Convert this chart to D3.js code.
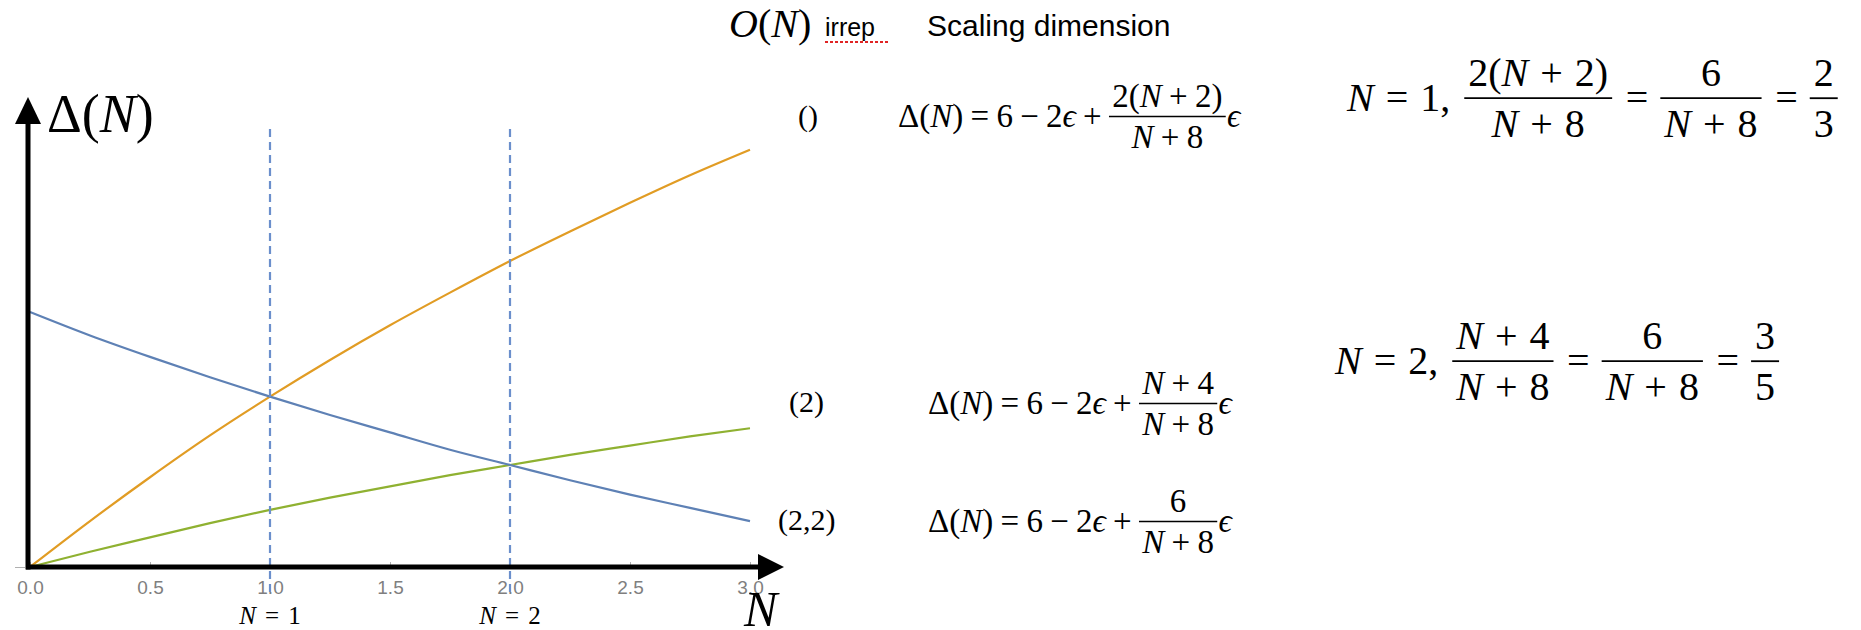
<!DOCTYPE html>
<html>
<head>
<meta charset="utf-8">
<script src="https://cdn.jsdelivr.net/npm/d3@7"></script>
<style>
  body { margin: 0; background: #fff; }
  svg text { font-family: "Liberation Serif", "DejaVu Serif", serif; fill: #000; }
</style>
</head>
<body>
<svg id="chart" width="1861" height="630"></svg>
<script>
// values (N from 0 to 3)
const nValues = [0, 0.25, 0.5, 0.75, 1, 1.25, 1.5, 1.75, 2, 2.25, 2.5, 2.75, 3];
const singletValues = [0.5, 0.545, 0.588, 0.629, 0.667, 0.703, 0.737, 0.769, 0.8, 0.829, 0.857, 0.884, 0.909];
const vectorValues = [0.5, 0.515, 0.529, 0.543, 0.556, 0.568, 0.579, 0.59, 0.6, 0.61, 0.619, 0.628, 0.636];
const tensorValues = [0.75, 0.727, 0.706, 0.686, 0.667, 0.649, 0.632, 0.615, 0.6, 0.585, 0.571, 0.558, 0.545];
const xTicks = [0, 0.5, 1, 1.5, 2, 2.5, 3];
const markedN = [1, 2];
const seriesColors = ["#e19c24", "#8fb131", "#5e81b5"];

const irrepLabels = ["()", "(2)", "(2,2)"];
const formulaRows = [
  ["Δ(N) = 6 − 2ϵ +", { num: "2(N + 2)", den: "N + 8" }, "ϵ"],
  ["Δ(N) = 6 − 2ϵ +", { num: "N + 4", den: "N + 8" }, "ϵ"],
  ["Δ(N) = 6 − 2ϵ +", { num: "6", den: "N + 8" }, "ϵ"],
];
const checkRows = [
  ["N = 1,", { num: "2(N + 2)", den: "N + 8" }, "=", { num: "6", den: "N + 8" }, "=", { num: "2", den: "3" }],
  ["N = 2,", { num: "N + 4", den: "N + 8" }, "=", { num: "6", den: "N + 8" }, "=", { num: "3", den: "5" }],
];

const svg = d3.select("#chart");
const x = d3.scaleLinear().domain([0, 3]).range([30, 750]);
const y = d3.scaleLinear().domain([0.5, 0.95]).range([567, 108]);

// lays out a row of math, one glyph at a time; returns group + width
function mathRow(parent, items, size, padEm = 0.22) {
  const g = parent.append("g").style("font-size", size + "px");
  const pad = padEm * size;
  let cx = 0;
  items.forEach((item) => {
    if (typeof item === "string") {
      for (const ch of item) {
        if (ch === " ") continue;
        const isOp = "=+−".includes(ch);
        if (isOp && cx > 0) cx += pad;
        const t = g.append("text").attr("x", cx).attr("y", 0).text(ch);
        if ("NOϵ".includes(ch)) t.style("font-style", "italic");
        cx += t.node().getComputedTextLength();
        if (isOp) cx += pad;
        if (ch === ",") cx += 0.35 * size;
      }
    } else {
      const num = mathRow(g, [item.num], size, padEm);
      const den = mathRow(g, [item.den], size, padEm);
      const over = 0.1 * size;
      const w = Math.max(num.width, den.width) + 2 * over;
      const axis = -0.32 * size;
      num.g.attr("transform", `translate(${cx + (w - num.width) / 2},${axis - 0.3 * size})`);
      den.g.attr("transform", `translate(${cx + (w - den.width) / 2},${axis + 0.97 * size})`);
      g.append("line")
        .attr("x1", cx).attr("x2", cx + w)
        .attr("y1", axis).attr("y2", axis)
        .attr("stroke", "#000")
        .attr("stroke-width", size / 22);
      cx += w + 0.04 * size;
    }
  });
  return { g, width: cx };
}

// grey mathematica ticks and labels
svg.append("g")
  .attr("transform", `translate(0,${y(0.5)})`)
  .call(d3.axisBottom(x).tickValues(xTicks).tickFormat(d3.format(".1f")).tickSizeInner(-5).tickSizeOuter(0).tickPadding(14))
  .call((g) => g.select(".domain").remove())
  .call((g) => g.selectAll("line").attr("stroke", "#b0b0b0"))
  .call((g) => g.selectAll("text")
    .style("fill", "#7f7f7f")
    .style("font-family", "'Liberation Sans', Arial, sans-serif")
    .style("font-size", "19px"));

svg.append("g")
  .attr("transform", `translate(25,0)`)
  .call(d3.axisLeft(y).tickValues([0.5]).tickSize(10).tickFormat(""))
  .call((g) => g.select(".domain").remove())
  .call((g) => g.selectAll("line").attr("stroke", "#b0b0b0"));

// curves
const line = d3.line()
  .x((d, i) => x(nValues[i]))
  .y((d) => y(d))
  .curve(d3.curveMonotoneX);

[singletValues, vectorValues, tensorValues].forEach((vals, i) => {
  svg.append("path")
    .attr("d", line(vals))
    .attr("fill", "none")
    .attr("stroke", seriesColors[i])
    .attr("stroke-width", 2.2);
});

// dashed markers at N = 1, 2
svg.append("g")
  .selectAll("line")
  .data(markedN)
  .enter()
  .append("line")
  .attr("x1", (d) => x(d))
  .attr("x2", (d) => x(d))
  .attr("y1", 129)
  .attr("y2", 592)
  .attr("stroke", "#6b8fcc")
  .attr("stroke-width", 2.2)
  .attr("stroke-dasharray", "8,5");

// hand drawn black axes with arrows
const axisG = svg.append("g");
axisG.append("line").attr("x1", 26).attr("x2", 762).attr("y1", 567).attr("y2", 567)
  .attr("stroke", "#000").attr("stroke-width", 5);
axisG.append("path").attr("d", "M758,554 L784,567 L758,580 Z").attr("fill", "#000");
axisG.append("line").attr("x1", 28).attr("x2", 28).attr("y1", 569.5).attr("y2", 120)
  .attr("stroke", "#000").attr("stroke-width", 5);
axisG.append("path").attr("d", "M15,124 L28,97 L41,124 Z").attr("fill", "#000");

mathRow(svg, ["Δ(N)"], 54).g.attr("transform", "translate(47,132)");
mathRow(svg, ["N"], 50).g.attr("transform", "translate(744,626)");

markedN.forEach((n) => {
  const lab = mathRow(svg, [`N = ${n}`], 25, 0.36);
  lab.g.attr("transform", `translate(${x(n) - lab.width / 2},624)`);
});

// header
mathRow(svg, ["O(N)"], 40).g.attr("transform", "translate(729,37)");
svg.append("text")
  .attr("x", 825).attr("y", 36)
  .style("font-family", "'Liberation Sans', Arial, sans-serif")
  .style("font-size", "25px")
  .text("irrep");
svg.append("line")
  .attr("x1", 825).attr("x2", 889).attr("y1", 42).attr("y2", 42)
  .attr("stroke", "#e02424").attr("stroke-width", 2).attr("stroke-dasharray", "3,2");
svg.append("text")
  .attr("x", 927).attr("y", 36)
  .style("font-family", "'Liberation Sans', Arial, sans-serif")
  .style("font-size", "30px")
  .text("Scaling dimension");

// irrep rows
const labelPos = [[798, 126], [789, 412], [778, 530]];
const formulaPos = [[898, 127], [928, 414], [928, 532]];
irrepLabels.forEach((lab, i) => {
  svg.append("text")
    .attr("x", labelPos[i][0]).attr("y", labelPos[i][1])
    .style("font-size", "30px")
    .text(lab);
  mathRow(svg, formulaRows[i], 33).g
    .attr("transform", `translate(${formulaPos[i][0]},${formulaPos[i][1]})`);
});

const checkPos = [[1347, 111], [1335, 374]];
checkRows.forEach((row, i) => {
  mathRow(svg, row, 40, 0.3).g.attr("transform", `translate(${checkPos[i][0]},${checkPos[i][1]})`);
});
</script>
</body>
</html>
